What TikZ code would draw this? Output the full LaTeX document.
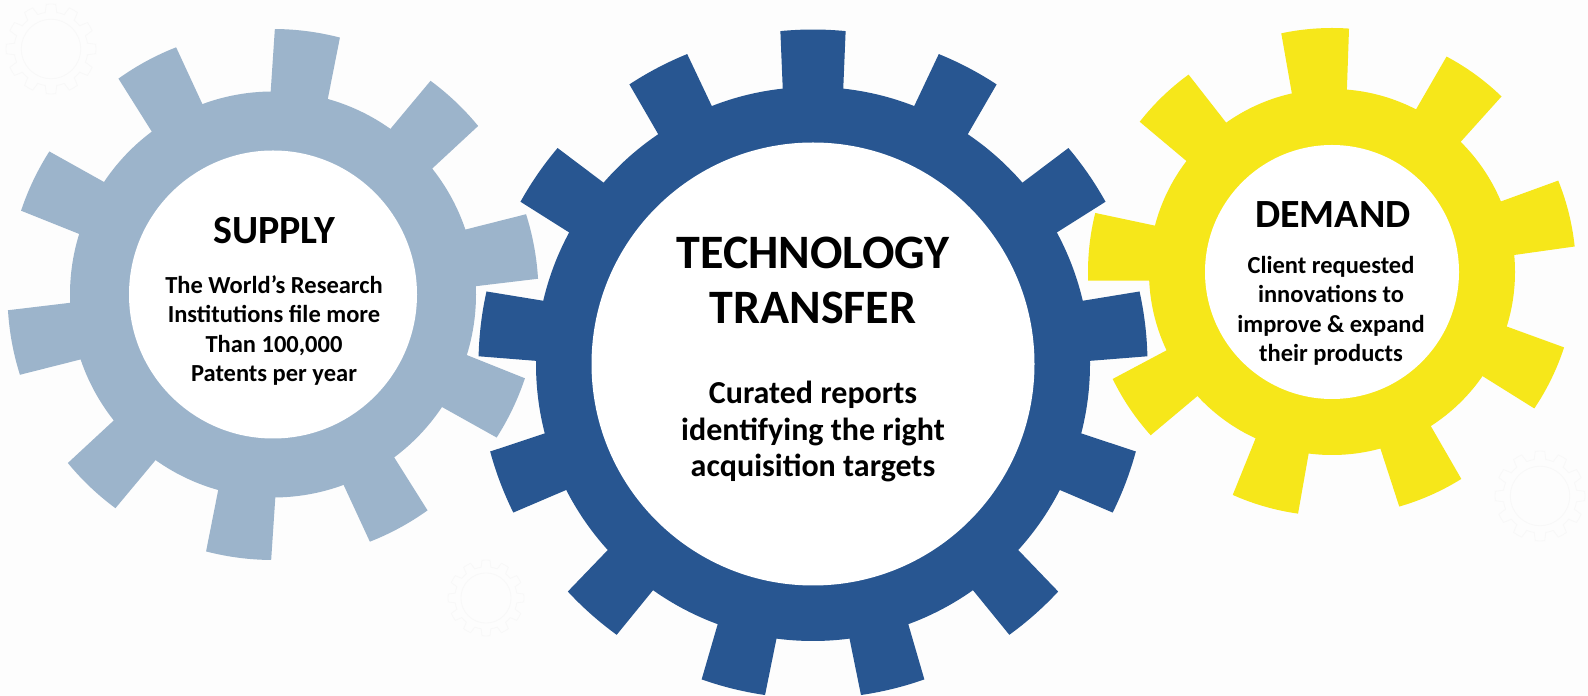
\documentclass[tikz,border=0pt]{standalone}
\usepackage{fontspec}
\setmainfont{Carlito}
\definecolor{bgc}{HTML}{FDFDFD}
\definecolor{steel}{HTML}{9CB4CB}
\definecolor{navy}{HTML}{285691}
\definecolor{sun}{HTML}{F6E71A}
\definecolor{ghost}{HTML}{F8F8F8}
\newcommand{\gearshape}[9]{%
% #1 cx #2 cy (from top) #3 hole r #4 ring r #5 tip r #6 teeth #7 phase #8 root half #9 tip half
\begin{scope}[shift={(#1,696-#2)}]
\fill circle[radius=#4];
\foreach \k in {1,...,#6}{
 \pgfmathsetmacro{\a}{#7-360/#6*(\k-1)}
 \pgfmathsetmacro{\sa}{\a-#9}
 \pgfmathsetmacro{\ea}{\a+#9}
 \fill (\a-#8:#4-2) -- (\sa:#5) arc[start angle=\sa,end angle=\ea,radius=#5] -- (\a+#8:#4-2) -- cycle;
}
\fill[white] circle[radius=#3];
\end{scope}}
\newcommand{\ghostgear}[3]{%
\begin{scope}[shift={(#1,696-#2)},draw=ghost,line width=0.8]
\draw circle[radius=#3*0.66];
\foreach \k in {1,...,12}{
 \pgfmathsetmacro{\b}{30*\k}
 \draw (\b-9:#3*0.82) -- (\b-6:#3) arc[start angle=\b-6,end angle=\b+6,radius=#3] -- (\b+9:#3*0.82) arc[start angle=\b+9,end angle=\b+21,radius=#3*0.82];
}
\end{scope}}
\begin{document}
\begin{tikzpicture}[x=1pt,y=1pt,
  supplyfont/.style={font=\bfseries\fontsize{40}{40}\selectfont},
  head/.style={text=black,align=center,inner sep=0},
  smallbody/.style={text=black,align=center,inner sep=0,font=\bfseries\fontsize{24.5}{29.4}\selectfont},
  bigbody/.style={text=black,align=center,inner sep=0,font=\bfseries\fontsize{32}{36.5}\selectfont},
  bighead/.style={text=black,align=center,inner sep=0,font=\bfseries\fontsize{48}{55}\selectfont}]
\useasboundingbox (0,0) rectangle (1588,696);
\fill[bgc] (0,0) rectangle (1588,696);
\ghostgear{51}{49}{45}
\ghostgear{1540}{496}{45}
\ghostgear{486}{598}{38}
\begin{scope}[fill=steel]
\gearshape{273}{294.5}{144}{203}{265.5}{10}{82.5}{8.2}{7.1}
\end{scope}
\begin{scope}[fill=navy]
\gearshape{813}{364}{221.5}{277}{334.5}{13}{90}{6.3}{5.6}
\end{scope}
\begin{scope}[fill=sun]
\gearshape{1332}{272}{127}{183}{244}{9}{94}{8.7}{8}
\end{scope}
\node[head,supplyfont] (supplyhead) at (274,696-231) {SUPPLY};
\node[smallbody] (supplybody) at (274,696-330.6) {The World’s Research\\Institutions file more\\Than 100,000\\Patents per year};
\node[bighead] (techhead) at (813,696-280.5) {TECHNOLOGY\\TRANSFER};
\node[bigbody] (techbody) at (813,696-431.5) {Curated reports\\identifying the right\\acquisition targets};
\node[head,supplyfont] (demandhead) at (1333,696-215) {DEMAND};
\node[smallbody] (demandbody) at (1331,696-311) {Client requested\\innovations to\\improve \& expand\\their products};
\end{tikzpicture}
\end{document}
